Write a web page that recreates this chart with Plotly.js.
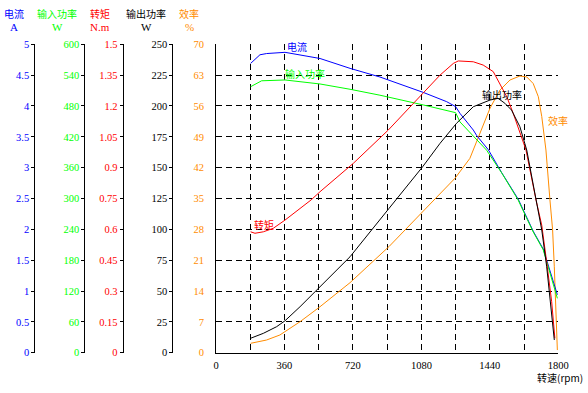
<!DOCTYPE html>
<html>
<head>
<meta charset="utf-8">
<script src="https://cdn.plot.ly/plotly-3.0.1.min.js"></script>
<style>html,body{margin:0;padding:0;background:#fff;}#chart{width:588px;height:393px;}</style>
</head>
<body>
<div id="chart"></div>
<script>
// ---- data ----
const speedCurrent = [182, 231, 266, 363, 547, 705, 862, 1090, 1213, 1260, 1283, 1353, 1371, 1432, 1502, 1563, 1589, 1630, 1668, 1721, 1756, 1795];
const currentA     = [4.69, 4.83, 4.85, 4.87, 4.77, 4.61, 4.47, 4.22, 4.07, 3.99, 3.88, 3.61, 3.52, 3.29, 2.92, 2.62, 2.49, 2.22, 1.97, 1.68, 1.33, 0.94];

const speedInput = [182, 240, 363, 547, 705, 862, 1090, 1213, 1260, 1283, 1360, 1423, 1502, 1545, 1589, 1630, 1668, 1721, 1756, 1795];
const inputPowerW = [517.5, 529, 530.6, 522.8, 512.5, 501, 482, 472, 467, 449, 419, 394, 350, 323, 297, 264.6, 235, 200, 157.6, 105.8];

const speedTorque = [182, 205, 249, 301, 363, 500, 547, 722, 906, 1090, 1178, 1248, 1274, 1353, 1405, 1458, 1493, 1529, 1563, 1598, 1630, 1683, 1713, 1739, 1765, 1782];
const torqueNm    = [0.588, 0.581, 0.588, 0.605, 0.645, 0.743, 0.783, 0.921, 1.083, 1.262, 1.35, 1.407, 1.419, 1.415, 1.399, 1.367, 1.31, 1.245, 1.164, 1.067, 0.986, 0.742, 0.62, 0.44, 0.25, 0.07];

const speedOutput = [182, 249, 319, 363, 442, 543, 705, 910, 1087, 1178, 1265, 1353, 1441, 1483, 1519, 1554, 1598, 1634, 1683, 1713, 1739, 1765, 1779];
const outputPowerW = [11.7, 15.7, 21.1, 25.9, 37.3, 53.0, 77.8, 117, 150.8, 169.7, 186, 199.4, 204.8, 206.2, 202.2, 196.7, 183.2, 164.3, 123.7, 99.5, 69.7, 34.6, 10.3];

const speedEff = [182, 266, 336, 363, 442, 543, 705, 910, 1087, 1257, 1335, 1388, 1441, 1493, 1546, 1598, 1634, 1668, 1695, 1713, 1730, 1735, 1756, 1770, 1779, 1788, 1795];
const efficiencyPct = [2.13, 2.88, 4.02, 4.77, 7.04, 10.3, 15.9, 24.1, 32.0, 39.6, 44.1, 49.8, 55.5, 59.6, 61.9, 62.8, 62.6, 61.1, 58.1, 53.6, 47.5, 46, 34.7, 27.9, 19.5, 9.7, 0.6];

const speedTickVals = [0, 180, 360, 540, 720, 900, 1080, 1260, 1440, 1620, 1800];
const speedTickText = ["0", "", "360", "", "720", "", "1080", "", "1440", "", "1800"];
const currentTickVals = [0, 0.5, 1, 1.5, 2, 2.5, 3, 3.5, 4, 4.5, 5];
const currentTickText = ["0", "0.5", "1", "1.5", "2", "2.5", "3", "3.5", "4", "4.5", "5"];
const inputTickVals = [0, 60, 120, 180, 240, 300, 360, 420, 480, 540, 600];
const torqueTickVals = [0, 0.15, 0.3, 0.45, 0.6, 0.75, 0.9, 1.05, 1.2, 1.35, 1.5];
const torqueTickText = ["0", "0.15", "0.3", "0.45", "0.6", "0.75", "0.9", "1.05", "1.2", "1.35", "1.5"];
const outputTickVals = [0, 25, 50, 75, 100, 125, 150, 175, 200, 225, 250];
const effTickVals = [0, 7, 14, 21, 28, 35, 42, 49, 56, 63, 70];

const axisTitles = [
  {name: "电流", unit: "A", color: "#0000FF", x: 14},
  {name: "输入功率", unit: "W", color: "#00FF00", x: 57},
  {name: "转矩", unit: "N.m", color: "#FF0000", x: 100},
  {name: "输出功率", unit: "W", color: "#000000", x: 146},
  {name: "效率", unit: "%", color: "#FF8C00", x: 189}
];

// ---- layout ----
const W = 588, H = 393;
const NUM = "Liberation Serif, Times New Roman, serif";
const CJK = "Noto Sans CJK SC, sans-serif";
const px = v => v / W;
const py = v => 1 - v / H;
const FS = 10.5;

function sideAxis(pos, vals, text, range, color) {
  return {
    anchor: "free", overlaying: "y", side: "left", position: px(pos),
    range: range, tickmode: "array", tickvals: vals, ticktext: text,
    showgrid: false, zeroline: false, showline: true, linecolor: "#000", linewidth: 1,
    ticks: "outside", ticklen: 3, tickcolor: "#000", ticklabelstandoff: 0,
    tickfont: {family: NUM, size: FS, color: color}, fixedrange: true
  };
}

const traces = [
  {x: speedEff, y: efficiencyPct, yaxis: "y", color: "#FF8C00"},
  {x: speedCurrent, y: currentA, yaxis: "y2", color: "#0000FF"},
  {x: speedInput, y: inputPowerW, yaxis: "y3", color: "#00FF00"},
  {x: speedTorque, y: torqueNm, yaxis: "y4", color: "#FF0000"},
  {x: speedOutput, y: outputPowerW, yaxis: "y5", color: "#000000"}
].map(t => ({
  type: "scatter", mode: "lines", x: t.x, y: t.y, xaxis: "x", yaxis: t.yaxis,
  line: {color: t.color, width: 1}, hoverinfo: "skip", showlegend: false
}));

const annotations = [];
axisTitles.forEach(a => {
  annotations.push({xref: "paper", yref: "paper", x: px(a.x), y: py(14), text: a.name, showarrow: false,
    xanchor: "center", yanchor: "middle", font: {family: CJK, size: 10, color: a.color}});
  annotations.push({xref: "paper", yref: "paper", x: px(a.x), y: py(27), text: a.unit, showarrow: false,
    xanchor: "center", yanchor: "middle", font: {family: NUM, size: 11, color: a.color}});
});
const curveLabels = [
  {text: "电流", x: 426, y: 69.6, color: "#0000FF"},
  {text: "输入功率", x: 468, y: 63.3, color: "#00FF00"},
  {text: "转矩", x: 252, y: 29.0, color: "#FF0000"},
  {text: "输出功率", x: 1504, y: 58.7, color: "#000000"},
  {text: "效率", x: 1798, y: 52.8, color: "#FF8C00"}
];
curveLabels.forEach(c => annotations.push({xref: "x", yref: "y", x: c.x, y: c.y, text: c.text, showarrow: false,
  xanchor: "center", yanchor: "middle", font: {family: CJK, size: 10, color: c.color}}));
annotations.push({xref: "paper", yref: "paper", x: px(560), y: py(377), text: "转速(rpm)", showarrow: false,
  xanchor: "center", yanchor: "middle", font: {family: CJK, size: 10, color: "#000"}});

const layout = {
  width: W, height: H, margin: {l: 0, r: 0, t: 0, b: 0},
  paper_bgcolor: "#fff", plot_bgcolor: "#fff", showlegend: false,
  xaxis: {
    domain: [px(216), px(558.3)], range: [0, 1800], tickmode: "array",
    tickvals: speedTickVals, ticktext: speedTickText,
    showgrid: true, gridcolor: "#000", gridwidth: 1, griddash: "6px,4px",
    zeroline: false, showline: true, linecolor: "#000", linewidth: 1,
    ticks: "", ticklabelstandoff: 3,
    tickfont: {family: NUM, size: FS, color: "#000"}, fixedrange: true
  },
  yaxis: {
    domain: [1 - 352.7 / H, 1 - 44.3 / H], range: [0, 70], tickmode: "array", tickvals: effTickVals,
    showgrid: true, gridcolor: "#000", gridwidth: 1, griddash: "6px,4px",
    zeroline: false, showline: true, linecolor: "#000", linewidth: 1,
    ticks: "inside", ticklen: 3, tickcolor: "#000", ticklabelstandoff: 9,
    tickfont: {family: NUM, size: FS, color: "#FF8C00"}, fixedrange: true
  },
  yaxis2: sideAxis(34.3, currentTickVals, currentTickText, [0, 5], "#0000FF"),
  yaxis3: sideAxis(84.3, inputTickVals, inputTickVals.map(String), [0, 600], "#00FF00"),
  yaxis4: sideAxis(122.7, torqueTickVals, torqueTickText, [0, 1.5], "#FF0000"),
  yaxis5: sideAxis(172.3, outputTickVals, outputTickVals.map(String), [0, 250], "#000000"),
  annotations: annotations
};

Plotly.newPlot("chart", traces, layout, {staticPlot: true, displayModeBar: false});
</script>
</body>
</html>
